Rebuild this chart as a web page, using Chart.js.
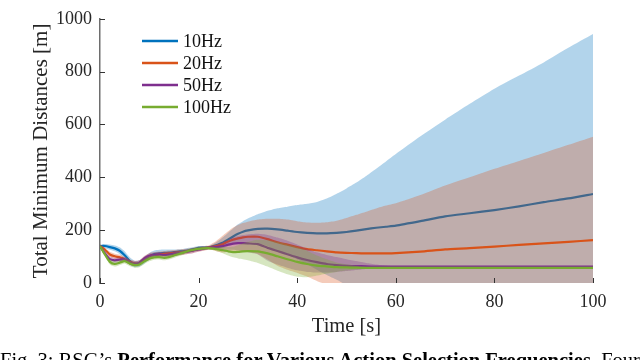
<!DOCTYPE html>
<html><head><meta charset="utf-8">
<script src="https://cdn.jsdelivr.net/npm/chart.js@4"></script>
<style>
html,body{margin:0;padding:0;background:#fff;overflow:hidden;width:640px;height:360px;}
#wrap{position:relative;width:640px;height:360px;overflow:hidden;}
canvas{position:absolute;left:0;top:0;}
#cap{position:absolute;left:0;top:350px;white-space:nowrap;font-family:"Liberation Serif","Times New Roman",serif;font-size:20.5px;line-height:20px;color:#000;}
</style></head><body>
<div id="wrap"><canvas id="c" width="640" height="360"></canvas>
<div id="cap">Fig. 3: RSG’s <b>Performance for Various Action Selection Frequencies.</b> Four</div></div>
<script>
// time samples [s]
const T = [0,1,2,3,4,5,6,7,8,9,10,11,12,13,14,15,16,17,18,19,20,21,22,23,24,25,26,27,28,29,30,
  32,34,36,38,40,42,44,46,48,50,52,54,56,58,60,
  65,70,75,80,85,90,95,100];

const seriesLabels = ['10Hz','20Hz','50Hz','100Hz'];
const xTickValues = [0,20,40,60,80,100];
const yTickValues = [0,200,400,600,800,1000];

// 10Hz
const mean10 = [140,140,136,131,122,105,84,72,74,86,101,110,112,114,115,117,119,121,124,128,133,134,135,140,146,153,165,176,186,194,199,
  205,206,203,198,193,190,188,188,190,193,198,204,209,213,217,
  234,252,264,276,290,306,320,337];
const up10 = [146,148,146,142,135,120,98,84,86,98,114,123,126,127,127,127,128,130,133,136,140,140,140,148,160,174,190,206,222,234,244,
  260,273,283,289,295,300,307,320,338,358,380,405,432,460,488,
  555,618,678,735,785,835,890,942];
const lo10 = [134,132,126,120,109,90,70,60,62,74,88,97,99,101,103,107,110,112,115,120,126,128,130,132,132,132,140,146,150,154,154,
  150,139,123,107,90,72,50,30,12,-8,-25,-40,-55,-68,-75,
  -97,-118,-150,-180,-205,-225,-250,-268];

// 20Hz
const mean20 = [140,126,108,101,97,90,80,74,76,92,102,106,108,110,112,114,116,118,121,124,128,131,134,138,142,148,157,164,169,173,175,
  175,166,154,145,136,128,124,120,116,114,113,112,112,112,113,
  119,127,132,138,144,150,156,162];
const up20 = [146,134,118,111,107,100,90,84,86,102,113,117,119,121,123,125,127,129,131,134,138,140,142,152,166,181,196,210,220,227,232,
  240,243,243,240,234,229,228,230,236,246,258,270,282,293,302,
  333,369,400,432,462,492,523,554];
const lo20 = [134,118,98,91,87,80,70,64,66,82,91,95,97,99,101,103,105,107,111,114,118,122,126,124,118,115,118,118,118,119,118,
  110,89,65,50,38,25,8,-6,-12,-18,-32,-46,-58,-69,-76,
  -95,-115,-136,-156,-174,-192,-211,-230];

// 50Hz
const mean50 = [140,112,90,86,88,89,78,73,77,93,103,106,108,106,108,111,114,117,120,123,127,130,133,135,137,140,145,149,151,151,150,
  147,133,121,109,97,87,79,72,68,65,64,63,62,62,62,
  62,62,62,62,62,62,62,62];
const up50 = [146,122,100,96,97,98,88,82,86,102,112,115,117,115,117,120,123,126,129,132,135,137,139,143,148,155,164,172,178,182,184,
  186,182,172,160,146,130,116,106,98,90,83,76,70,66,63,
  63,63,63,63,63,63,63,63];
const lo50 = [134,102,80,76,79,80,68,64,68,84,94,97,99,97,99,102,105,108,111,114,119,123,127,127,126,125,126,126,124,120,116,
  108,84,70,58,48,42,40,40,42,45,49,53,56,59,61,
  61,61,61,61,61,61,61,61];

// 100Hz
const mean100 = [140,108,80,72,77,83,74,68,70,82,92,97,98,95,98,104,110,116,122,126,129,131,132,130,127,124,120,117,118,120,121,
  120,112,101,90,80,72,66,63,60,59,58,57,57,57,57,
  57,57,57,57,57,57,57,57];
const up100 = [146,116,90,82,86,92,84,78,80,92,102,106,107,104,107,113,119,124,129,132,134,136,137,136,136,136,136,137,143,150,156,
  164,162,156,147,136,122,104,90,78,71,65,61,59,58,58,
  58,58,58,58,58,58,58,58];
const lo100 = [134,100,70,62,68,74,64,58,60,72,82,88,89,86,89,95,101,108,115,120,124,126,127,124,118,112,104,97,93,90,86,
  76,62,46,33,24,22,28,36,42,47,51,54,55,56,56,
  56,56,56,56,56,56,56,56];

const seriesColors = ['#0072BD','#D95319','#7E2F8E','#77AC30'];
const bandColors = ['rgba(0,114,189,0.3)','rgba(217,83,25,0.3)','rgba(126,47,142,0.3)','rgba(119,172,48,0.3)'];
const means = [mean10, mean20, mean50, mean100];
const ups = [up10, up20, up50, up100];
const los = [lo10, lo20, lo50, lo100];

function pts(arr){ return T.map((t,i)=>({x:t, y:arr[i]})); }

const datasets = [];
let ord = 100;
seriesLabels.forEach((lab, k) => {
  const loIdx = datasets.length;
  datasets.push({label: lab+' lower', data: pts(los[k]), borderColor:'transparent', borderWidth:0, pointRadius:0, fill:false, tension:0.2, order: ord--});
  datasets.push({label: lab+' upper', data: pts(ups[k]), borderColor:'transparent', borderWidth:0, pointRadius:0, fill: loIdx, backgroundColor: bandColors[k], tension:0.2, order: ord--});
  datasets.push({label: lab, data: pts(means[k]), borderColor: seriesColors[k], borderWidth:2.2, pointRadius:0, fill:false, tension:0.2, order: ord--});
});

const FONT = '"Liberation Serif", "Times New Roman", serif';
Chart.defaults.font.family = FONT;
Chart.defaults.color = '#262626';

const inwardTicks = {
  id: 'inwardTicks',
  afterDatasetsDraw(chart) {
    const {ctx, chartArea: a, scales: {x, y}} = chart;
    ctx.save();
    ctx.strokeStyle = '#333';
    ctx.lineWidth = 1;
    xTickValues.forEach(v => {
      const px = Math.round(x.getPixelForValue(v)) + 0.5;
      ctx.beginPath(); ctx.moveTo(px, a.bottom); ctx.lineTo(px, a.bottom - 5); ctx.stroke();
    });
    yTickValues.forEach(v => {
      const py = Math.round(y.getPixelForValue(v)) + 0.5;
      ctx.beginPath(); ctx.moveTo(a.left, py); ctx.lineTo(a.left + 5, py); ctx.stroke();
    });
    ctx.restore();
  }
};

const legendPlugin = {
  id: 'customLegend',
  afterDraw(chart) {
    const ctx = chart.ctx;
    ctx.save();
    ctx.font = '18px ' + FONT;
    ctx.textBaseline = 'middle';
    ctx.textAlign = 'left';
    seriesLabels.forEach((lab, i) => {
      const yy = 41 + i * 22;
      ctx.strokeStyle = seriesColors[i];
      ctx.lineWidth = 2.5;
      ctx.beginPath(); ctx.moveTo(142, yy); ctx.lineTo(178, yy); ctx.stroke();
      ctx.fillStyle = '#111';
      ctx.fillText(lab, 183, yy + 1);
    });
    ctx.restore();
  }
};

new Chart(document.getElementById('c'), {
  type: 'line',
  data: { datasets },
  options: {
    responsive: false,
    animation: false,
    devicePixelRatio: 1,
    layout: { padding: { top: 7, right: 47, left: 0, bottom: 0 } },
    plugins: { legend: { display: false }, tooltip: { enabled: false } },
    scales: {
      x: {
        type: 'linear', min: 0, max: 100,
        afterFit: s => { s.height = 77; },
        grid: { display: true, drawOnChartArea: false, drawTicks: false },
        border: { display: false },
        ticks: { stepSize: 20, padding: 8, font: { size: 18 }, color: '#262626', maxRotation: 0, callback: v => String(v) },
        title: { display: true, text: 'Time [s]', font: { size: 20.5 }, color: '#262626', padding: { top: 0, bottom: 21 } }
      },
      y: {
        min: 0, max: 1000,
        afterFit: s => { s.width = 100; },
        grid: { display: true, drawOnChartArea: false, drawTicks: false },
        border: { display: true, color: '#6e6e6e', width: 1.5 },
        ticks: { stepSize: 200, padding: 8, font: { size: 18 }, color: '#262626', callback: v => String(v) },
        title: { display: true, text: 'Total Minimum Distances [m]', font: { size: 21 }, color: '#262626', padding: { top: 29, bottom: 0 } }
      }
    }
  },
  plugins: [inwardTicks, legendPlugin]
});
</script>
</body></html>
